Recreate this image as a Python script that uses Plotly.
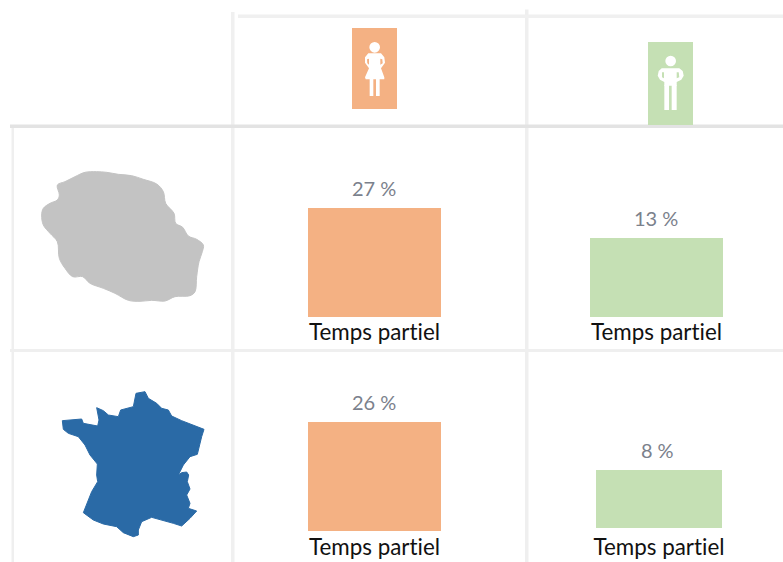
import plotly.graph_objects as go

W, H = 783, 562

# --- data ---
category = "Temps partiel"
panel_values = [27, 13, 26, 8]
# the source is an infographic: each bar has its own scale
panel_boxes = [(308, 441, 208, 317), (590, 723, 238, 317), (308, 441, 422, 531), (596, 722, 470, 528)]
panel_colors = ["#f4b183", "#c5e0b4", "#f4b183", "#c5e0b4"]
tick_standoffs = [0, 0, 1, 4]
label_xshifts = [-1, -1, -1, -2]

reunion_x = [125,130,150,172,178,172,195,225,255,290,320,355,395,430,470,490,497,522,527,548,565,590,610,607,597,590,585,570,525,495,455,420,385,345,310,270,248,218,195,178,172,150,130]
reunion_y = [285,265,250,240,225,195,185,170,157,155,157,163,167,178,192,215,250,280,310,322,348,358,375,395,425,470,515,527,530,543,541,544,541,520,505,490,470,470,445,415,365,340,315]
france_x = [187,215,245,250,293,297,290,310,325,355,362,400,408,435,445,470,485,505,515,545,565,612,605,597,592,570,550,535,545,560,566,562,570,560,570,565,590,570,545,520,485,455,425,415,415,400,370,350,310,280,250,262,275,293,290,292,270,255,235,205,190]
france_y = [242,240,237,250,258,240,203,212,225,230,210,200,160,155,175,190,205,210,228,242,250,268,290,320,343,350,375,405,398,396,405,425,447,465,490,505,513,535,558,550,540,532,545,570,585,590,578,560,552,540,518,490,455,425,405,372,345,315,290,280,268]

woman_body = [(70,100),(108,100),(118,112),(120,128),(108,145),(118,172),(118,178),(62,178),(60,172),(72,145),(60,128),(60,112)]
woman_holes = [[(66,118),(72,116),(72,134),(67,130)], [(106,116),(112,118),(113,130),(106,134)]]
woman_legs = [(74,85,175,228), (93,104,175,228)]
man_body = [(65,100),(118,100),(128,108),(131,122),(124,134),(110,141),(110,152),(73,152),(73,141),(60,134),(53,122),(56,108)]
man_holes = [[(66,112),(72,112),(72,130),(66,127)], [(110,112),(116,112),(118,127),(110,130)]]
man_legs = [(73,87,150,225), (95,110,150,225)]

# --- helpers ---
def px(x0, x1): return [x0 / W, x1 / W]
def py(y0, y1): return [1 - y1 / H, 1 - y0 / H]

def poly(points, ox, oy, color):
    d = "M" + " L".join(f"{ox + a / 3:.1f},{oy + b / 3:.1f}" for a, b in points) + " Z"
    return dict(type="path", path=d, xref="x5", yref="y5", fillcolor=color, line=dict(width=0))

def rect(x0, x1, y0, y1, color):
    return dict(type="rect", x0=x0, x1=x1, y0=y0, y1=y1, xref="x5", yref="y5", fillcolor=color, line=dict(width=0))

fig = go.Figure()
layout = dict(
    width=W, height=H, margin=dict(l=0, r=0, t=0, b=0, pad=0, autoexpand=False),
    paper_bgcolor="white", plot_bgcolor="rgba(0,0,0,0)", showlegend=False, bargap=0,
    font=dict(family="Lato"),
)

annotations = []
for i, (v, box, c, st, xs) in enumerate(zip(panel_values, panel_boxes, panel_colors, tick_standoffs, label_xshifts), start=1):
    fig.add_trace(go.Bar(
        x=[category], y=[v], marker=dict(color=c, line=dict(width=0)),
        xaxis=f"x{i}", yaxis=f"y{i}", hoverinfo="skip",
    ))
    annotations.append(dict(
        x=category, y=v, xref=f"x{i}", yref=f"y{i}", text=f"{v}\u202f%", showarrow=False,
        xanchor="center", yanchor="middle", xshift=xs, yshift=20,
        font=dict(family="Lato", size=20, color="#7b818c"),
    ))
    layout[f"xaxis{i}"] = dict(
        domain=px(box[0], box[1]), anchor=f"y{i}", type="category", range=[-0.5, 0.5],
        showgrid=False, zeroline=False, showline=False, ticks="", ticklabelstandoff=st,
        tickfont=dict(family="Lato", size=22.4, color="#111111"),
    )
    layout[f"yaxis{i}"] = dict(
        domain=py(box[2], box[3]), anchor=f"x{i}", range=[0, v],
        visible=False, showgrid=False, zeroline=False,
    )
layout["annotations"] = annotations

fig.add_trace(go.Scatter(
    x=[a / 3 for a in reunion_x] + [reunion_x[0] / 3],
    y=[120 + b / 3 for b in reunion_y] + [120 + reunion_y[0] / 3],
    mode="lines", fill="toself", fillcolor="#c3c3c3", line=dict(color="#c3c3c3", width=1, shape="spline", smoothing=1.0),
    xaxis="x5", yaxis="y5", hoverinfo="skip",
))
fig.add_trace(go.Scatter(
    x=[a / 3 for a in france_x] + [france_x[0] / 3],
    y=[340 + b / 3 for b in france_y] + [340 + france_y[0] / 3],
    mode="lines", fill="toself", fillcolor="#2a6aa6", line=dict(color="#2a6aa6", width=1),
    xaxis="x5", yaxis="y5", hoverinfo="skip",
))
layout["xaxis5"] = dict(domain=[0, 1], range=[0, W], anchor="y5", visible=False, fixedrange=True)
layout["yaxis5"] = dict(domain=[0, 1], range=[H, 0], anchor="x5", visible=False, fixedrange=True)

shapes = []
# grid
for x0, x1, y0, y1, c in [
    (231, 234.5, 12, H, "#f0f0f0"), (525, 528.5, 9.5, H, "#efefef"),
    (11.5, 14, 126, H, "#efefef"), (238, W, 14.5, 18, "#f0f0f0"),
    (10, W, 124.5, 128, "#e3e3e3"), (10, W, 349, 352, "#efefef"),
]:
    shapes.append(rect(x0, x1, y0, y1, c))
# icons
shapes.append(rect(352, 397, 28, 109, "#f4b183"))
shapes.append(rect(648, 693, 42, 125, "#c5e0b4"))
ox, oy = 345, 20
shapes.append(dict(type="circle", xref="x5", yref="y5", x0=ox + 73/3, x1=ox + 105/3, y0=oy + 66/3, y1=oy + 98/3, fillcolor="white", line=dict(width=0)))
shapes.append(poly(woman_body, ox, oy, "white"))
shapes += [poly(h, ox, oy, "#f4b183") for h in woman_holes]
shapes += [rect(ox + a/3, ox + b/3, oy + c/3, oy + d/3, "white") for a, b, c, d in woman_legs]
ox, oy = 640, 35
shapes.append(dict(type="circle", xref="x5", yref="y5", x0=ox + 76/3, x1=ox + 108/3, y0=oy + 62/3, y1=oy + 94/3, fillcolor="white", line=dict(width=0)))
shapes.append(poly(man_body, ox, oy, "white"))
shapes += [poly(h, ox, oy, "#c5e0b4") for h in man_holes]
shapes += [rect(ox + a/3, ox + b/3, oy + c/3, oy + d/3, "white") for a, b, c, d in man_legs]
layout["shapes"] = shapes

fig.update_layout(**layout)
fig.write_html("out.html", config=dict(displayModeBar=False),
               post_script="document.body.style.margin='0';document.body.style.overflow='hidden';"
               "var s=document.createElement('style');s.textContent='svg text{font-variant-ligatures:none !important;}';document.head.appendChild(s);")
